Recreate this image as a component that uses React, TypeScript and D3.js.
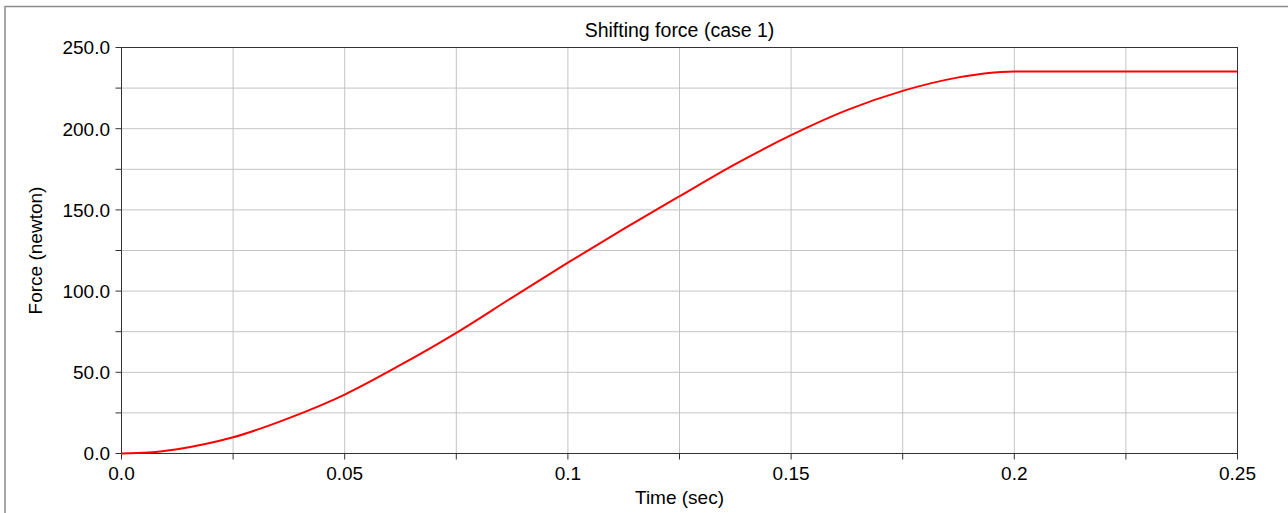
import React from 'react'
import * as d3 from 'd3'

// time (sec) and shifting force (newton)
const times = [0, 0.00625, 0.0125, 0.01875, 0.025, 0.0375, 0.05, 0.0625, 0.075, 0.0875, 0.1, 0.1125, 0.125, 0.1375, 0.15, 0.1625, 0.175, 0.1875, 0.19375, 0.2, 0.225, 0.25]
const force = [0, 0.6, 2.6, 5.8, 10.0, 21.8, 36.3, 54.5, 74.3, 96.0, 117.5, 138.3, 158.4, 178.2, 196.0, 211.4, 223.3, 231.6, 234.2, 235.2, 235.2, 235.2]

const xMajorTicks = [0, 0.05, 0.1, 0.15, 0.2, 0.25]
const xTickLabels = ['0.0', '0.05', '0.1', '0.15', '0.2', '0.25']
const xGridTicks = [0.025, 0.05, 0.075, 0.1, 0.125, 0.15, 0.175, 0.2, 0.225]
const yMajorTicks = [0, 50, 100, 150, 200, 250]
const yGridTicks = [25, 50, 75, 100, 125, 150, 175, 200, 225]

const W = 1288
const H = 513
const plot = { left: 121.5, right: 1237.5, top: 47.5, bottom: 453.5 }
const font = 'Arial, "Liberation Sans", sans-serif'

export default function App() {
  const x = d3.scaleLinear().domain([0, 0.25]).range([plot.left, plot.right])
  const y = d3.scaleLinear().domain([0, 250]).range([plot.bottom, plot.top])

  const line = d3.line<number>()
    .x((_, i) => x(times[i]))
    .y(d => y(d))
    .curve(d3.curveMonotoneX)

  const fmtY = d3.format('.1f')

  return (
    <svg width={W} height={H} style={{ position: 'absolute', left: 0, top: 0, background: '#fff' }}>
      <rect x={5} y={6.5} width={1400} height={600} fill="#fff" stroke="#8c8c8c" strokeWidth={1.5} />

      <text x={(plot.left + plot.right) / 2} y={36.5} textAnchor="middle" fontFamily={font} fontSize={19.5} fill="#000">
        Shifting force (case 1)
      </text>

      {/* grid */}
      {xGridTicks.map(t => (
        <line key={'gx' + t} x1={x(t)} x2={x(t)} y1={plot.top} y2={plot.bottom} stroke="#c4c4c4" strokeWidth={1} />
      ))}
      {yGridTicks.map(t => (
        <line key={'gy' + t} x1={plot.left} x2={plot.right} y1={y(t)} y2={y(t)} stroke="#c4c4c4" strokeWidth={1} />
      ))}

      {/* frame */}
      <rect x={plot.left} y={plot.top} width={plot.right - plot.left} height={plot.bottom - plot.top}
        fill="none" stroke="#333" strokeWidth={1} />

      {/* y ticks */}
      {[0, ...yGridTicks, 250].map(t => (
        <line key={'ty' + t} x1={plot.left - 6} x2={plot.left} y1={y(t)} y2={y(t)} stroke="#333" />
      ))}
      {yMajorTicks.map(t => (
        <text key={'ly' + t} x={110} y={y(t)} dy="0.36em" textAnchor="end" fontFamily={font} fontSize={19} fill="#000">
          {fmtY(t)}
        </text>
      ))}

      {/* x ticks */}
      {[0, ...xGridTicks, 0.25].map(t => (
        <line key={'tx' + t} x1={x(t)} x2={x(t)} y1={plot.bottom} y2={plot.bottom + 6} stroke="#333" />
      ))}
      {xMajorTicks.map((t, i) => (
        <text key={'lx' + t} x={x(t)} y={479.5} textAnchor="middle" fontFamily={font} fontSize={19} fill="#000">
          {xTickLabels[i]}
        </text>
      ))}

      <text x={(plot.left + plot.right) / 2} y={504} textAnchor="middle" fontFamily={font} fontSize={19} fill="#000">
        Time (sec)
      </text>
      <text transform={`translate(42,${(plot.top + plot.bottom) / 2}) rotate(-90)`} textAnchor="middle"
        fontFamily={font} fontSize={19} fill="#000">
        Force (newton)
      </text>

      <path d={line(force) ?? ''} fill="none" stroke="#ff0000" strokeWidth={2} />
    </svg>
  )
}
